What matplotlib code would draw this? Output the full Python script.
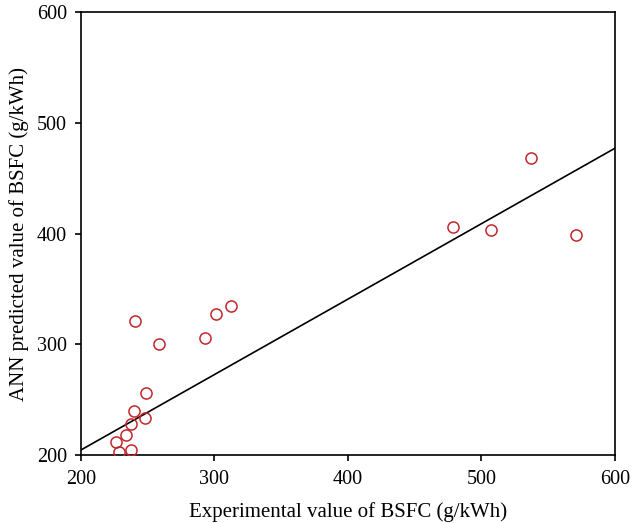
import matplotlib
matplotlib.use("Agg")
import matplotlib.pyplot as plt

exp_bsfc = [228.7, 237.9, 226.0, 234.0, 237.2, 239.5, 248.2, 248.9, 240.7, 258.7,
            293.1, 301.4, 312.4, 478.7, 506.9, 537.1, 570.5]
ann_bsfc = [202.7, 204.2, 211.7, 218.1, 228.3, 239.4, 233.7, 256.0, 321.0, 300.2,
            305.6, 327.0, 334.5, 405.6, 403.2, 468.2, 398.4]
fit_x = [200, 600]
fit_y = [204.5, 477.0]
xticks = [200, 300, 400, 500, 600]
yticks = [200, 300, 400, 500, 600]

plt.rcParams['font.family'] = ['Liberation Serif', 'DejaVu Serif']

fig = plt.figure(figsize=(6.32, 5.23), dpi=100)
ax = fig.add_axes([0.128, 0.130, 0.845, 0.847])

ax.plot(fit_x, fit_y, color='black', lw=1.2, zorder=2)
ax.plot(exp_bsfc, ann_bsfc, linestyle='none', marker='o', markersize=8,
        markerfacecolor='none', markeredgecolor='#c0272d', markeredgewidth=1.1, zorder=3)

ax.set_xlim(200, 600)
ax.set_ylim(200, 600)
ax.set_xticks(xticks)
ax.set_yticks(yticks)
ax.tick_params(direction='out', length=4, width=1.2, labelsize=14.5, top=False, right=False)
ax.tick_params(axis='x', pad=7)
ax.tick_params(axis='y', pad=6)
for s in ax.spines.values():
    s.set_linewidth(1.2)

ax.set_xlabel('Experimental value of BSFC (g/kWh)', fontsize=15, labelpad=9)
ax.set_ylabel('ANN predicted value of BSFC (g/kWh)', fontsize=15, labelpad=6)

fig.savefig('out.png', dpi=100)
